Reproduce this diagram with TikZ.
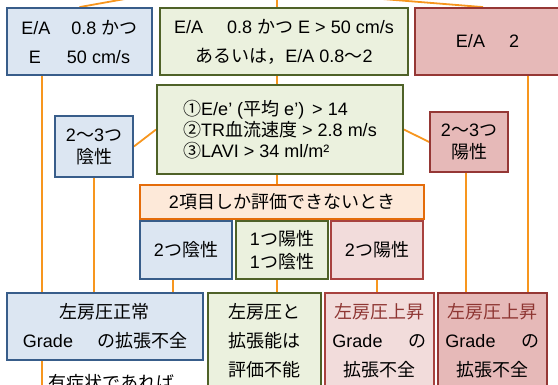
\documentclass[tikz,border=0pt]{standalone}
\usepackage{fontspec}
\setmainfont{Liberation Sans}
\newfontfamily\jpfont{Noto Sans CJK JP}
\newcommand\J[1]{{\jpfont #1}}
\usetikzlibrary{backgrounds}
\definecolor{blueF}{HTML}{DCE6F2}
\definecolor{blueB}{HTML}{385D8A}
\definecolor{greenF}{HTML}{EBF1DE}
\definecolor{greenB}{HTML}{4F6228}
\definecolor{redF}{HTML}{E6B9B8}
\definecolor{redB}{HTML}{953735}
\definecolor{pinkF}{HTML}{F2DCDB}
\definecolor{pinkB}{HTML}{A8423F}
\definecolor{oranF}{HTML}{FDE9D9}
\definecolor{oranB}{HTML}{E46C0A}
\definecolor{lineC}{HTML}{F7961E}
\definecolor{redT}{HTML}{8E3532}
\begin{document}
\begin{tikzpicture}[x=1pt,y=-1pt,
  box/.style={draw, line width=1.8pt, inner sep=0pt, align=center, font=\fontsize{18}{29}\selectfont},
  bluebox/.style={box, draw=blueB, fill=blueF},
  greenbox/.style={box, draw=greenB, fill=greenF},
  redbox/.style={box, draw=redB, fill=redF},
  pinkbox/.style={box, draw=pinkB, fill=pinkF},
  oranbox/.style={box, draw=oranB, fill=oranF},
  conn/.style={draw=lineC, line width=1.8pt},
  lbl/.style={inner sep=0pt, font=\fontsize{18}{22}\selectfont}]
\useasboundingbox (0,0) rectangle (558,385);
\clip (0,0) rectangle (558,385);

% top row
\node[bluebox, minimum width=145, minimum height=67] (tl) at (79.5,41.5)
  {E/A\hspace{21pt}0.8 \J{かつ}\\E\hspace{26pt}50 cm/s};
\node[greenbox, minimum width=248, minimum height=67] (tm) at (284,41.5)
  {E/A\hspace{24pt}0.8 \J{かつ} E > 50 cm/s\\\J{あるいは，}E/A 0.8\J{～}2};
\node[redbox, minimum width=145, minimum height=67] (tr) at (487.5,41.5)
  {E/A\hspace{24pt}2};

% criteria
\node[greenbox, minimum width=246, minimum height=89, align=left,
  font=\fontsize{18}{21}\selectfont] (crit) at (280,129.5)
  {\J{①}E/e' (\J{平均} e')\hspace{8pt}> 14\\
   \J{②}TR\J{血流速度} > 2.8 m/s\\
   \J{③}LAVI > 34 ml/m²};
\node[bluebox, minimum width=78, minimum height=61, font=\fontsize{18}{22}\selectfont] (neg) at (94,146.5)
  {2\J{～}3\J{つ}\\\J{陰性}};
\node[redbox, minimum width=78, minimum height=60, font=\fontsize{18}{22}\selectfont] (pos) at (469,142)
  {2\J{～}3\J{つ}\\\J{陽性}};

% two-item row
\node[oranbox, minimum width=284, minimum height=34] (two) at (282,202)
  {2\J{項目しか評価できないとき}};
\node[bluebox, minimum width=92, minimum height=58] (twoneg) at (186,250)
  {2\J{つ陰性}};
\node[greenbox, minimum width=92, minimum height=58, font=\fontsize{18}{23}\selectfont] (onepos) at (282,250)
  {1\J{つ陽性}\\1\J{つ陰性}};
\node[pinkbox, minimum width=92, minimum height=58] (twopos) at (377,250)
  {2\J{つ陽性}};

% bottom row
\node[bluebox, minimum width=196, minimum height=67] (bl) at (105,326.5)
  {\J{左房圧正常}\\Grade\hspace{24pt}\J{の拡張不全}};
\node[greenbox, minimum width=113, minimum height=96] (gb) at (264.5,341)
  {\J{左房圧と}\\\J{拡張能は}\\\J{評価不能}};
\node[pinkbox, minimum width=109, minimum height=96] (pb) at (379.5,341)
  {\textcolor{redT}{\J{左房圧上昇}}\\Grade\hspace{26pt}\J{の}\\\J{拡張不全}};
\node[redbox, minimum width=109, minimum height=96] (rb) at (492.5,341)
  {\textcolor{redT}{\J{左房圧上昇}}\\Grade\hspace{26pt}\J{の}\\\J{拡張不全}};

\node[lbl, anchor=base west] (sym) at (48,389) {\J{有症状であれば}};

% connectors
\coordinate (topC) at (277,-5);
\coordinate (topL) at (136,-3);
\coordinate (topR) at (370,-2);
\coordinate (x42) at (42,0);
\coordinate (x94) at (94,0);
\coordinate (x173) at (173,0);
\coordinate (x277) at (277,0);
\coordinate (x466) at (466,0);
\coordinate (x483) at (483,0);
\coordinate (x528) at (528,0);
\coordinate (endBL) at (42,392);
\begin{scope}[on background layer]
\draw[conn] (topC) -- (topC |- tm.north);
\draw[conn] (tl.north) -- (topL);
\draw[conn] (x483 |- tr.north) -- (topR);
\draw[conn] (x42 |- tl.south) -- (x42 |- bl.north);
\draw[conn] (x42 |- bl.south) -- (endBL);
\draw[conn] (x277 |- tm.south) -- (x277 |- crit.north);
\draw[conn] (x528 |- tr.south) -- (x528 |- rb.north);
\draw[conn] (neg.east) -- (crit.west);
\draw[conn] (crit.east) -- (pos.west);
\draw[conn] (neg.south) -- (x94 |- bl.north);
\draw[conn] (x466 |- pos.south) -- (x466 |- rb.north);
\draw[conn] (x277 |- crit.south) -- (x277 |- two.north);
\draw[conn] (x173 |- twoneg.south) -- (x173 |- bl.north);
\draw[conn] (x277 |- onepos.south) -- (x277 |- gb.north);
\draw[conn] (twopos.south) -- (twopos.south |- pb.north);
\end{scope}
\end{tikzpicture}
\end{document}
